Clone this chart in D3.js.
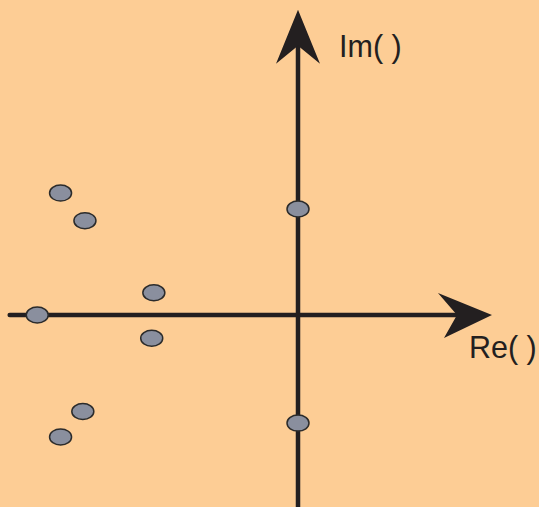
<!DOCTYPE html>
<html><head><meta charset="utf-8">
<script src="https://cdn.jsdelivr.net/npm/d3@7"></script>
<style>html,body{margin:0;padding:0;background:#FDCD95;}svg{display:block;}</style>
</head><body>
<script>
// pole positions (real, imaginary), arbitrary units
const reValues = [-2.24, -2.01, 0, -1.36, -2.46, -1.38, -2.03, -2.24, 0];
const imValues = [1.15, 0.89, 1.0, 0.21, 0, -0.22, -0.91, -1.15, -1.02];
const axisLabels = ["Re( )", "Im( )"];
const reExtent = [-2.72, 1.83];
const imExtent = [-1.9, 2.88];

const W = 539, H = 507;
const svg = d3.select("body").append("svg").attr("width", W).attr("height", H);
svg.append("rect").attr("width", W).attr("height", H).attr("fill", "#FDCD95");

const x = d3.scaleLinear().domain([0, 1]).range([298, 404]);
const y = d3.scaleLinear().domain([0, 1]).range([315, 209]);
const ink = "#231F20";

// axes lines
svg.append("line").attr("x1", x(reExtent[0])).attr("x2", x(reExtent[1]) - 20)
  .attr("y1", y(0)).attr("y2", y(0)).attr("stroke", ink).attr("stroke-width", 4.5).attr("stroke-linecap", "round");
svg.append("line").attr("x1", x(0)).attr("x2", x(0))
  .attr("y1", y(imExtent[0])).attr("y2", y(imExtent[1]) + 20).attr("stroke", ink).attr("stroke-width", 4.5);

// arrowheads
const tx = x(reExtent[1]), ty = y(0);
svg.append("path").attr("d", `M${tx},${ty} L${tx-54},${ty-22} L${tx-35},${ty} L${tx-48},${ty+23} Z`).attr("fill", ink);
const ux = x(0), uy = y(imExtent[1]);
svg.append("path").attr("d", `M${ux},${uy} L${ux+22},${uy+54} L${ux},${uy+36} L${ux-22},${uy+54} Z`).attr("fill", ink);

// labels
svg.append("text").attr("x", 339).attr("y", 57).text(axisLabels[1])
  .attr("font-family", "Liberation Sans, Arial, sans-serif").attr("font-size", 30.5).attr("fill", ink);
svg.append("text").attr("x", 469).attr("y", 358).text(axisLabels[0])
  .attr("font-family", "Liberation Sans, Arial, sans-serif").attr("font-size", 30.5).attr("fill", ink);

// poles
const pts = reValues.map((r, i) => ({re: r, im: imValues[i]}));
svg.selectAll("ellipse.p").data(pts).enter().append("ellipse")
  .attr("cx", d => x(d.re)).attr("cy", d => y(d.im))
  .attr("rx", 11).attr("ry", 8)
  .attr("fill", "#8A8F9E").attr("stroke", "#2B2B2B").attr("stroke-width", 1.5);
</script>
</body></html>
